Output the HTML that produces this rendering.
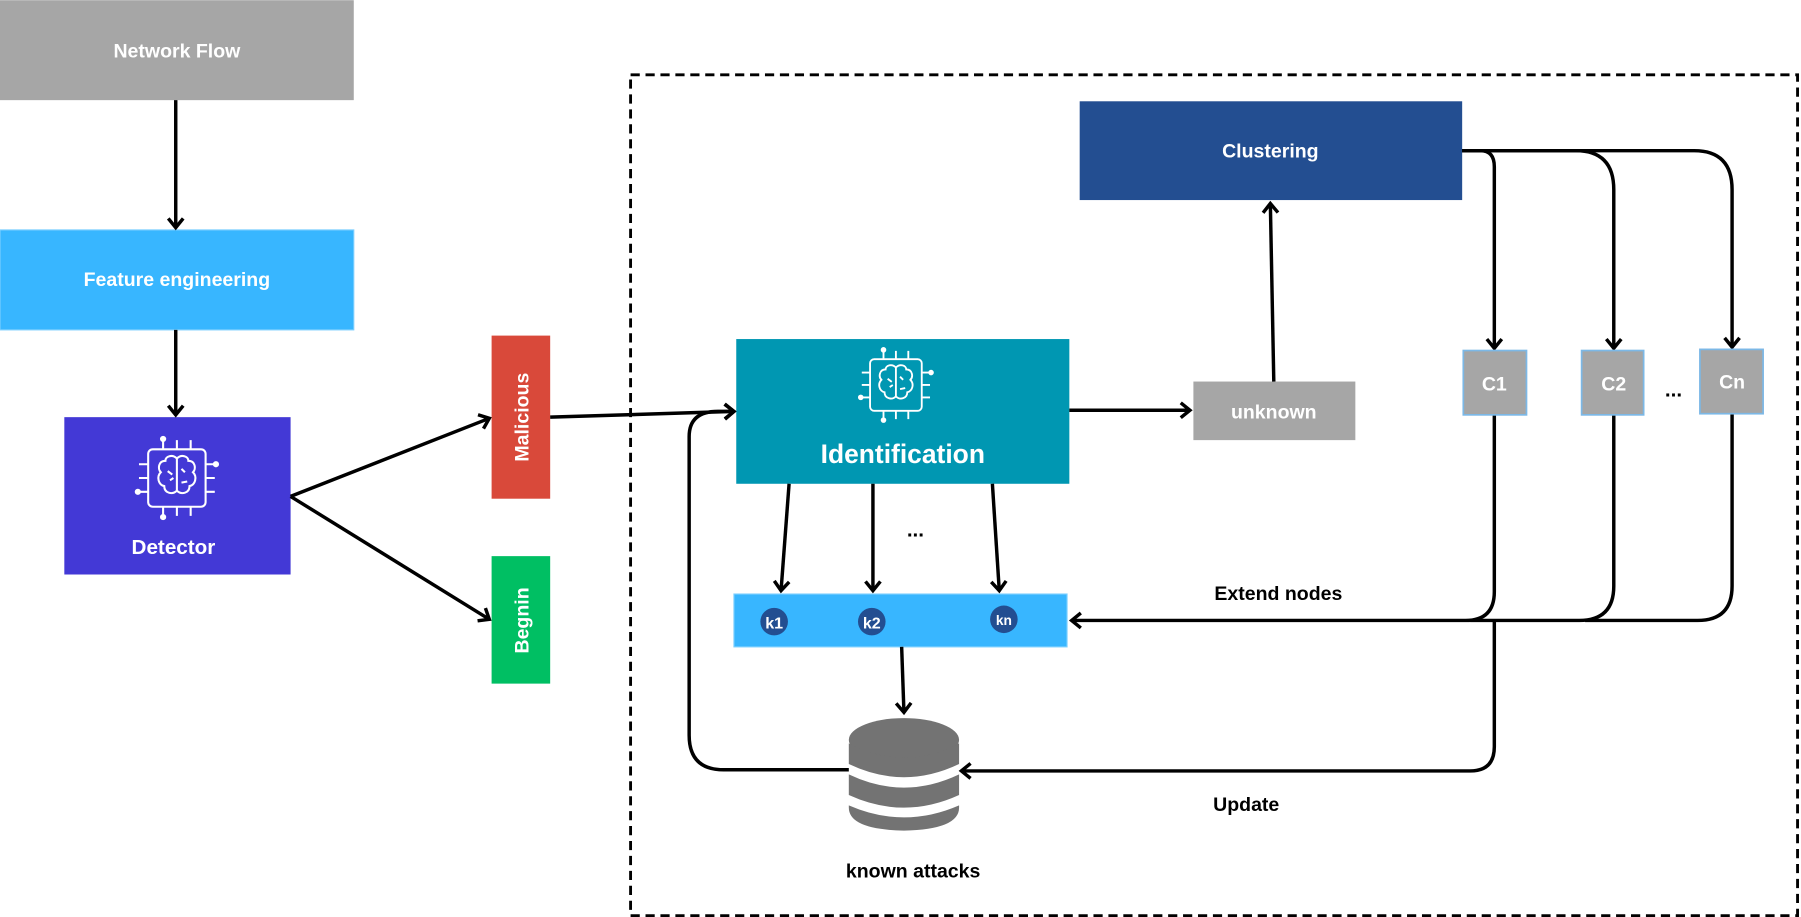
<!DOCTYPE html>
<html><head><meta charset="utf-8"><style>html,body{margin:0;padding:0;background:#fff}svg{display:block}text{font-family:"Liberation Sans",sans-serif;font-weight:bold}</style></head>
<body>
<svg width="1801" height="917" viewBox="0 0 1568 798" xmlns="http://www.w3.org/2000/svg">
<defs>
<marker id="ah" markerWidth="14" markerHeight="16" refX="10" refY="8" orient="auto" markerUnits="userSpaceOnUse">
<path d="M2,1.5 L10,8 L2,14.5" fill="none" stroke="#000" stroke-width="3"/>
</marker>
<g id="chip" fill="none" stroke="#fff" stroke-width="1.8">
<rect x="-25" y="-25" width="50" height="50" rx="4"/>
<path d="M-12,-25V-33 M0,-25V-33 M12,-25V-33 M-12,25V33 M0,25V33 M12,25V33 M-25,-12H-33 M-25,0H-33 M-25,12H-33 M25,-12H33 M25,0H33 M25,12H33"/>
<circle cx="-12" cy="-34" r="1.8" fill="#fff"/><circle cx="-12" cy="34" r="1.8" fill="#fff"/>
<circle cx="34" cy="-12" r="1.8" fill="#fff"/><circle cx="-34" cy="12" r="1.8" fill="#fff"/>
<path d="M0,-17 C-4,-21 -10,-19 -10,-15 C-16,-15 -17,-8 -14,-5 C-18,-1 -16,6 -11,7 C-11,13 -4,15 0,11 C4,15 11,13 11,7 C16,6 18,-1 14,-5 C17,-8 16,-15 10,-15 C10,-19 4,-21 0,-17 Z M0,-17 V11 M-8,-6 L-4,-3 M-6,2 L-3,0 M4,-8 L7,-5 M4,4 L9,3"/>
</g>
</defs>

<rect x="0" y="0" width="308" height="87" fill="#a6a6a6"/>
<text x="154" y="50" fill="#fff" font-size="17" text-anchor="middle">Network Flow</text>
<rect x="0" y="200" width="308" height="87" fill="#38b6ff" stroke="#7ccfff" stroke-width="1"/>
<text x="154" y="249" fill="#fff" font-size="17" text-anchor="middle">Feature engineering</text>
<rect x="56" y="363" width="197" height="137" fill="#4339d6"/>
<use href="#chip" transform="translate(154,416)"/>
<text x="151" y="482" fill="#fff" font-size="18" text-anchor="middle">Detector</text>
<g stroke="#000" stroke-width="3" fill="none">
<path d="M153,87V198" marker-end="url(#ah)"/>
<path d="M153,287V361" marker-end="url(#ah)"/>
</g>

<rect x="428" y="292" width="51" height="142" fill="#d9493a"/>
<text transform="translate(460,363) rotate(-90)" fill="#fff" font-size="17" text-anchor="middle">Malicious</text>
<rect x="428" y="484" width="51" height="111" fill="#00bf63"/>
<text transform="translate(460,540) rotate(-90)" fill="#fff" font-size="17" text-anchor="middle">Begnin</text>
<g stroke="#000" stroke-width="3" fill="none">
<path d="M253,432 L426,364" marker-end="url(#ah)"/>
<path d="M253,432 L426,539" marker-end="url(#ah)"/>
<path d="M479,363 L639,358" marker-end="url(#ah)"/>
</g>

<rect x="549" y="65" width="1016" height="732" fill="none" stroke="#000" stroke-width="2.5" stroke-dasharray="8,5"/>

<rect x="641" y="295" width="290" height="126" fill="#0097b2"/>
<use href="#chip" transform="translate(780,335) scale(0.9)"/>
<text x="786" y="403" fill="#fff" font-size="23" text-anchor="middle">Identification</text>
<path d="M931,357 L1036,357" stroke="#000" stroke-width="3" marker-end="url(#ah)"/>

<rect x="1039" y="332" width="141" height="51" fill="#a6a6a6"/>
<text x="1109" y="364" fill="#fff" font-size="17" text-anchor="middle">unknown</text>
<path d="M1109,332 L1106,177" stroke="#000" stroke-width="3" marker-end="url(#ah)"/>

<rect x="940" y="88" width="333" height="86" fill="#234e91"/>
<text x="1106" y="137" fill="#fff" font-size="17" text-anchor="middle">Clustering</text>

<g stroke="#000" stroke-width="3" fill="none">
<path d="M1273,131 H1289 Q1301,131 1301,145 V303" marker-end="url(#ah)"/>
<path d="M1273,131 H1372 Q1405,131 1405,165 V303" marker-end="url(#ah)"/>
<path d="M1273,131 H1475 Q1508,131 1508,165 V302" marker-end="url(#ah)"/>
<path d="M1301,361 V515 Q1301,540 1276,540 H933" marker-end="url(#ah)"/>
<path d="M1405,361 V510 Q1405,540 1375,540 H1280"/>
<path d="M1508,360 V510 Q1508,540 1478,540 H1380"/>
<path d="M1301,540 V650 Q1301,671 1280,671 H837" marker-end="url(#ah)"/>
<path d="M739,670 H630 Q600,670 600,640 V380 Q600,358 625,358 H639" marker-end="url(#ah)"/>
</g>
<rect x="1274" y="305" width="55" height="56" fill="#a6a6a6" stroke="#7cb8e6" stroke-width="1.5"/>
<text x="1301" y="340" fill="#fff" font-size="17" text-anchor="middle">C1</text>
<rect x="1377" y="305" width="54" height="56" fill="#a6a6a6" stroke="#7cb8e6" stroke-width="1.5"/>
<text x="1405" y="340" fill="#fff" font-size="17" text-anchor="middle">C2</text>
<rect x="1480" y="304" width="55" height="56" fill="#a6a6a6" stroke="#7cb8e6" stroke-width="1.5"/>
<text x="1508" y="338" fill="#fff" font-size="17" text-anchor="middle">Cn</text>
<text x="1457" y="345" fill="#000" font-size="18" text-anchor="middle">...</text>
<text x="1113" y="522" fill="#000" font-size="17" text-anchor="middle">Extend nodes</text>

<g stroke="#000" stroke-width="3" fill="none">
<path d="M687,421 L680,514" marker-end="url(#ah)"/>
<path d="M760,421 L760,514" marker-end="url(#ah)"/>
<path d="M864,421 L870,514" marker-end="url(#ah)"/>
</g>
<text x="797" y="467" fill="#000" font-size="18" text-anchor="middle">...</text>
<rect x="639" y="517" width="290" height="46" fill="#38b6ff" stroke="#7ccfff" stroke-width="1"/>
<circle cx="674" cy="541" r="12" fill="#234e91"/><text x="674" y="547" fill="#fff" font-size="14" text-anchor="middle">k1</text>
<circle cx="759" cy="541" r="12" fill="#234e91"/><text x="759" y="547" fill="#fff" font-size="14" text-anchor="middle">k2</text>
<circle cx="874" cy="539" r="12" fill="#234e91"/><text x="874" y="544" fill="#fff" font-size="12" text-anchor="middle">kn</text>
<path d="M785,563 L787,620" stroke="#000" stroke-width="3" fill="none" marker-end="url(#ah)"/>

<g fill="#737373">
<ellipse cx="787" cy="644" rx="48" ry="19"/>
<path d="M739,647 Q787,672 835,647 V665 Q787,688 739,665 Z"/>
<path d="M739,674 Q787,697 835,674 V692 Q787,714 739,692 Z"/>
<path d="M739,701 Q787,722 835,701 V703 Q835,722 787,723 Q739,722 739,703 Z"/>
</g>
<text x="795" y="764" fill="#000" font-size="17" text-anchor="middle">known attacks</text>
<text x="1085" y="706" fill="#000" font-size="17" text-anchor="middle">Update</text>
</svg>
</body></html>
